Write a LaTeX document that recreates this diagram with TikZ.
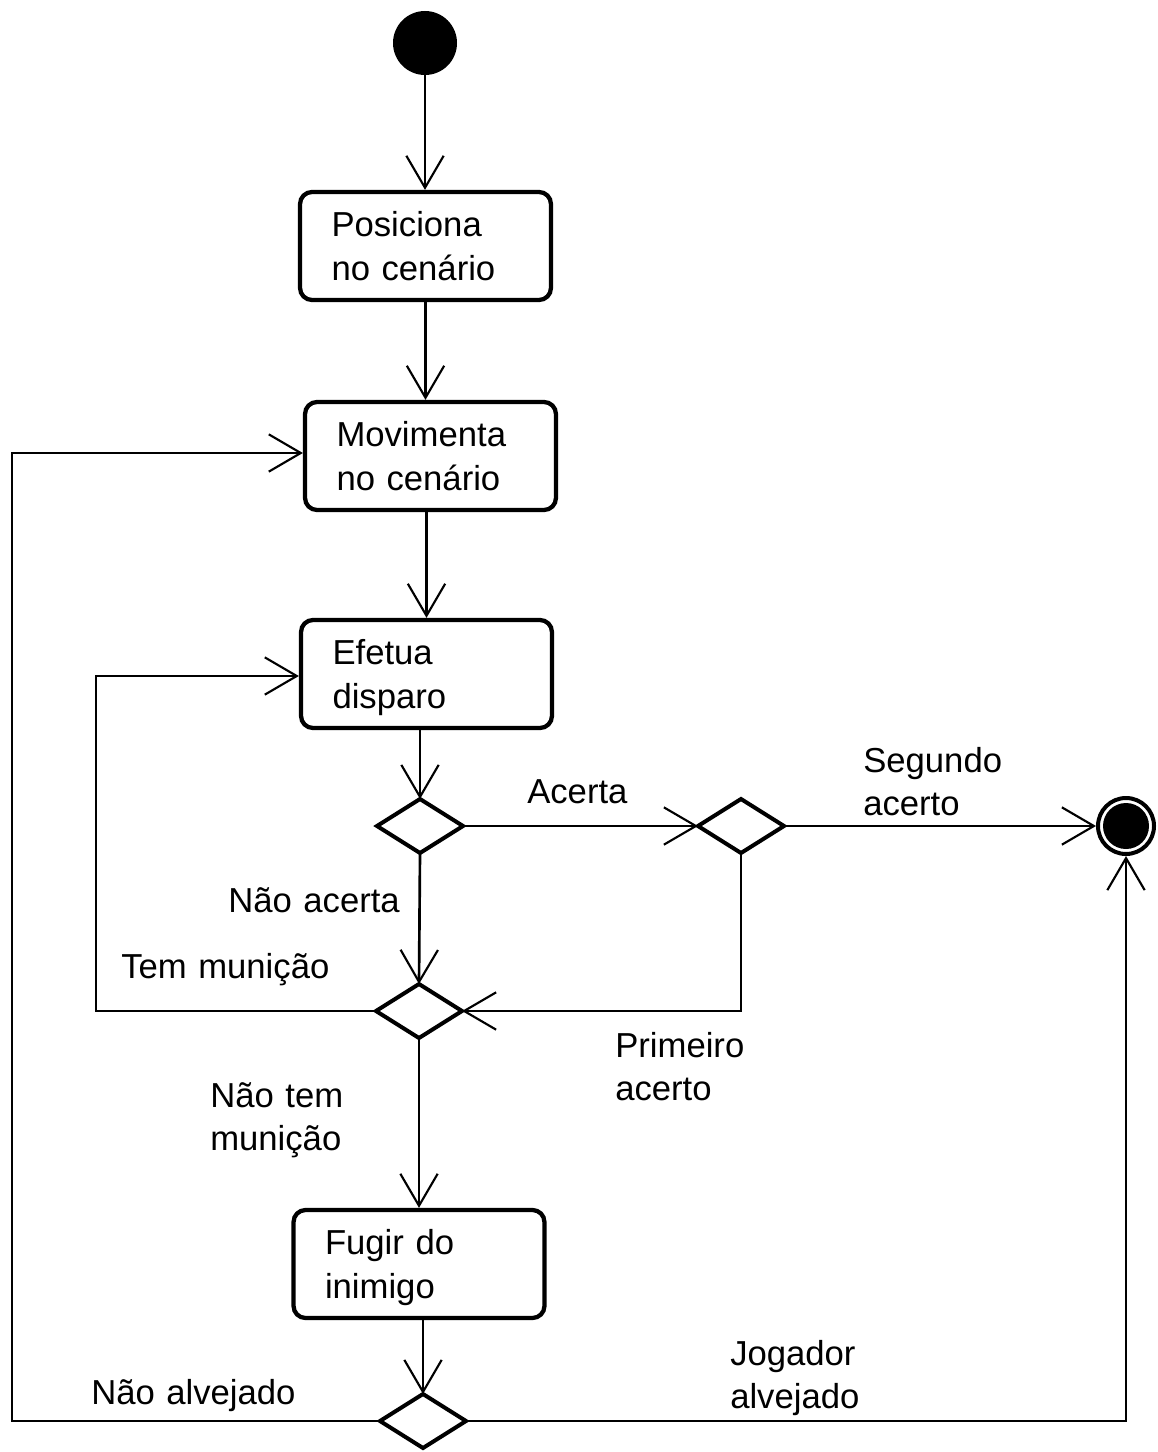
\documentclass[tikz,border=0pt]{standalone}
\usepackage{fontspec}
\setmainfont{Liberation Sans}
\usetikzlibrary{arrows.meta,shapes.geometric}

\begin{document}
\begin{tikzpicture}[x=0.75pt,y=-0.75pt,
  every node/.style={font=\fontsize{26pt}{32.5pt}\selectfont},
  action/.style={draw, line width=3.2pt, rounded corners=9pt, fill=white,
    inner xsep=23.6pt, inner ysep=0pt, text width=141pt, align=left,
    text height=18.6pt, text depth=32.5pt, minimum height=81pt},
  decision/.style={diamond, draw, line width=3pt, fill=white, inner sep=0pt,
    outer sep=0pt, minimum width=64.5pt, minimum height=40.5pt},
  initial/.style={circle, fill=black, inner sep=0pt, minimum size=48pt},
  final/.style={circle, draw, line width=3pt, fill=white, inner sep=0pt, minimum size=42pt},
  finaldot/.style={circle, fill=black, inner sep=0pt, minimum size=34.5pt},
  guard/.style={align=left, text width=200pt, inner sep=0pt, anchor=base west},
  flow/.style={line width=2pt,
    -{Straight Barb[length=24pt,width=28pt,line width=1.6pt]}}
]
\useasboundingbox[fill=white] (0,0) rectangle (1157,1452);

% states
\node[initial] (start) at (425,43) {};
\node[action] (b1) at (425.5,246) {Posiciona\\no cenário};
\node[action] (b2) at (430.5,456) {Movimenta\\no cenário};
\node[action] (b3) at (426.5,674) {Efetua\\disparo};
\node[action] (b4) at (419,1264) {Fugir do\\inimigo};

% decisions
\node[decision] (d1) at (420,826) {};
\node[decision] (d2) at (741,826) {};
\node[decision] (d3) at (419,1011) {};
\node[decision] (d4) at (423,1421) {};

% final state
\node[final] (end) at (1126,826) {};
\node[finaldot] (enddot) at (end) {};

% loop corners
\coordinate (c1) at (96,676);
\coordinate (c2) at (12,453);

% transitions
\draw[flow] (start) -- (start |- b1.north);
\draw[flow] (b1.south) -- (b1.south |- b2.north);
\draw[flow] (b3.north |- b2.south) -- (b3.north);
\draw[flow] (b3.south -| d1.north) -- (d1.north);
\draw[flow] (d1.east) -- (d2.west);
\draw[flow] (d2.east) -- (end.west);
\draw[flow] (d1.south) -- (d3.north);
\draw[flow] (d2.south) |- (d3.east);
\draw[flow] (d3.west) -| (c1) -- (c1 -| b3.west);
\draw[flow] (d3.south) -- (d3.south |- b4.north);
\draw[flow] (b4.south -| d4.north) -- (d4.north);
\draw[flow] (d4.west) -| (c2) -- (c2 -| b2.west);
\draw[flow] (d4.east) -| (end.south);

% guards
\node[guard] (gAcerta) at (527,803) {Acerta};
\node[guard] (gSegundo) at (863,772) {Segundo\\acerto};
\node[guard] (gNaoAcerta) at (228,912) {Não acerta};
\node[guard] (gTem) at (121,978) {Tem munição};
\node[guard] (gPrimeiro) at (615,1057) {Primeiro\\acerto};
\node[guard] (gNaoTem) at (210,1107) {Não tem\\munição};
\node[guard] (gNaoAlvejado) at (91,1404) {Não alvejado};
\node[guard] (gJogador) at (730,1365) {Jogador\\alvejado};
\end{tikzpicture}
\end{document}
